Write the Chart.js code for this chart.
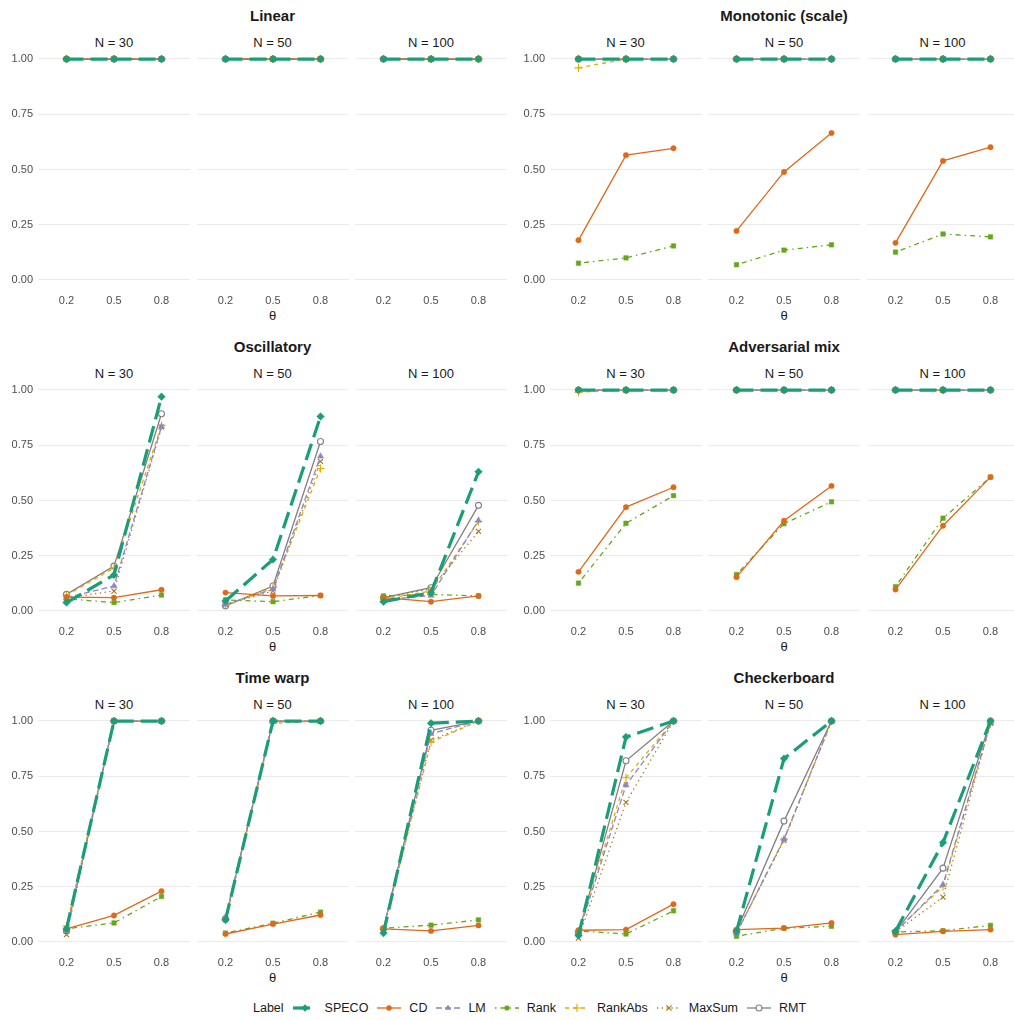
<!DOCTYPE html>
<html>
<head>
<meta charset="utf-8">
<script src="https://cdn.jsdelivr.net/npm/chart.js@4.4.1/dist/chart.umd.min.js"></script>
<style>
  html, body { margin: 0; padding: 0; background: #fff; overflow: hidden; }
  body { width: 1014px; height: 1020px; position: relative; font-family: "Liberation Sans", Arial, sans-serif; }
  .txt { position: absolute; transform: translate(-50%, -50%); white-space: nowrap; color: #1a1a1a; }
  .title { font-size: 15px; font-weight: bold; }
  .strip { font-size: 13px; }
  .xlab { font-size: 13px; }
  canvas.panel { position: absolute; }
  #legend { position: absolute; left: 253px; top: 999px; height: 18px; display: flex; align-items: center; font-size: 12.5px; color: #1a1a1a; }
  #legend .item { display: flex; align-items: center; margin-left: 9px; }
  #legend svg { margin-right: 8px; }
</style>
</head>
<body>
<div id="legend"></div>
<script>
const series = ['SPECO', 'CD', 'LM', 'Rank', 'RankAbs', 'MaxSum', 'RMT'];
const theta = [0.2, 0.5, 0.8];
const sampleSizes = [30, 50, 100];
const yTicks = [0, 0.25, 0.5, 0.75, 1];
const scenarioNames = ['Linear', 'Monotonic (scale)', 'Oscillatory', 'Adversarial mix', 'Time warp', 'Checkerboard'];

// each series: [N=30, N=50, N=100], each of those over theta 0.2 / 0.5 / 0.8
const linear = {
    SPECO:   [[1, 1, 1], [1, 1, 1], [1, 1, 1]],
    CD:      [[1, 1, 1], [1, 1, 1], [1, 1, 1]],
    LM:      [[1, 1, 1], [1, 1, 1], [1, 1, 1]],
    Rank:    [[1, 1, 1], [1, 1, 1], [1, 1, 1]],
    RankAbs: [[1, 1, 1], [1, 1, 1], [1, 1, 1]],
    MaxSum:  [[1, 1, 1], [1, 1, 1], [1, 1, 1]],
    RMT:     [[1, 1, 1], [1, 1, 1], [1, 1, 1]],
};
const monotonic = {
    SPECO:   [[1, 1, 1], [1, 1, 1], [1, 1, 1]],
    CD:      [[0.18, 0.565, 0.596], [0.222, 0.489, 0.665], [0.168, 0.539, 0.601]],
    LM:      [[1, 1, 1], [1, 1, 1], [1, 1, 1]],
    Rank:    [[0.076, 0.10, 0.154], [0.069, 0.135, 0.159], [0.126, 0.208, 0.195]],
    RankAbs: [[0.96, 1, 1], [1, 1, 1], [1, 1, 1]],
    MaxSum:  [[1, 1, 1], [1, 1, 1], [1, 1, 1]],
    RMT:     [[1, 1, 1], [1, 1, 1], [1, 1, 1]],
};
const oscillatory = {
    SPECO:   [[0.038, 0.163, 0.97], [0.045, 0.233, 0.88], [0.042, 0.083, 0.63]],
    CD:      [[0.063, 0.06, 0.096], [0.083, 0.068, 0.07], [0.06, 0.042, 0.068]],
    LM:      [[0.06, 0.113, 0.835], [0.03, 0.098, 0.70], [0.05, 0.07, 0.41]],
    Rank:    [[0.055, 0.038, 0.072], [0.05, 0.042, 0.07], [0.068, 0.075, 0.068]],
    RankAbs: [[0.07, 0.195, 0.84], [0.025, 0.105, 0.645], [0.055, 0.09, 0.405]],
    MaxSum:  [[0.06, 0.09, 0.832], [0.03, 0.09, 0.677], [0.06, 0.10, 0.36]],
    RMT:     [[0.075, 0.203, 0.893], [0.023, 0.113, 0.767], [0.06, 0.105, 0.478]],
};
const adversarial = {
    SPECO:   [[1, 1, 1], [1, 1, 1], [1, 1, 1]],
    CD:      [[0.177, 0.47, 0.56], [0.153, 0.408, 0.566], [0.097, 0.386, 0.606]],
    LM:      [[1, 1, 1], [1, 1, 1], [1, 1, 1]],
    Rank:    [[0.126, 0.397, 0.522], [0.165, 0.395, 0.494], [0.11, 0.42, 0.606]],
    RankAbs: [[0.99, 1, 1], [1, 1, 1], [1, 1, 1]],
    MaxSum:  [[1, 1, 1], [1, 1, 1], [1, 1, 1]],
    RMT:     [[1, 1, 1], [1, 1, 1], [1, 1, 1]],
};
const timeWarp = {
    SPECO:   [[0.059, 1, 1], [0.10, 1, 1], [0.04, 0.99, 1]],
    CD:      [[0.059, 0.12, 0.23], [0.036, 0.081, 0.122], [0.059, 0.05, 0.075]],
    LM:      [[0.05, 1, 1], [0.113, 1, 1], [0.06, 0.943, 1]],
    Rank:    [[0.06, 0.086, 0.206], [0.04, 0.085, 0.135], [0.062, 0.076, 0.10]],
    RankAbs: [[0.072, 1, 1], [0.10, 0.99, 1], [0.06, 0.905, 1]],
    MaxSum:  [[0.033, 1, 1], [0.10, 1, 1], [0.06, 0.913, 1]],
    RMT:     [[0.05, 1, 1], [0.105, 1, 1], [0.06, 0.958, 1]],
};
const checkerboard = {
    SPECO:   [[0.029, 0.928, 1], [0.048, 0.83, 1], [0.048, 0.45, 1]],
    CD:      [[0.053, 0.056, 0.171], [0.056, 0.063, 0.086], [0.033, 0.048, 0.056]],
    LM:      [[0.04, 0.71, 1], [0.04, 0.465, 1], [0.045, 0.26, 0.99]],
    Rank:    [[0.05, 0.036, 0.141], [0.026, 0.062, 0.071], [0.045, 0.051, 0.075]],
    RankAbs: [[0.05, 0.743, 1], [0.04, 0.465, 1], [0.05, 0.25, 0.988]],
    MaxSum:  [[0.018, 0.632, 1], [0.04, 0.46, 1], [0.045, 0.203, 0.99]],
    RMT:     [[0.04, 0.82, 1], [0.05, 0.547, 1], [0.045, 0.334, 1]],
};
const scenarioData = [linear, monotonic, oscillatory, adversarial, timeWarp, checkerboard];

const look = {
    SPECO:   { color: '#1B9E77', width: 3.2, dash: [17, 7], shape: 'rectRot', r: 3.8, fill: true },
    CD:      { color: '#DD6A1A', width: 1.3, dash: [], shape: 'circle', r: 2.7, fill: true },
    LM:      { color: '#8C86C4', width: 1.3, dash: [6, 3], shape: 'triangle', r: 3.6, fill: true },
    Rank:    { color: '#66A61E', width: 1.3, dash: [1.5, 4, 5, 4], shape: 'rect', r: 3.2, fill: true },
    RankAbs: { color: '#E6AB02', width: 1.3, dash: [4, 4], shape: 'cross', r: 4, fill: false },
    MaxSum:  { color: '#A6761D', width: 1.3, dash: [1.3, 3.5], shape: 'crossRot', r: 3.6, fill: false },
    RMT:     { color: '#808080', width: 1.3, dash: [], shape: 'circle', r: 3, fill: false },
};

const rowTops = [48, 379, 710];
const groupLefts = [38, 549.5];
const panelW = 152, panelH = 243, panelStep = 158.5, yAxisW = 40, xAxisH = 20;
const tickFont = { family: '"Liberation Sans", Arial, sans-serif', size: 11 };

function addText(cls, text, x, y) {
    const d = document.createElement('div');
    d.className = 'txt ' + cls;
    d.textContent = text;
    d.style.left = x + 'px';
    d.style.top = y + 'px';
    document.body.appendChild(d);
}

function makePanel(left, top, values, n, showY) {
    const c = document.createElement('canvas');
    c.className = 'panel';
    c.width = panelW + (showY ? yAxisW : 0);
    c.height = panelH + xAxisH;
    c.style.left = Math.round(left - (showY ? yAxisW : 0)) + 'px';
    c.style.top = top + 'px';
    document.body.appendChild(c);

    new Chart(c, {
        type: 'line',
        data: {
            datasets: series.map((name) => {
                const st = look[name];
                return {
                    label: name,
                    data: theta.map((t, i) => ({ x: t, y: values[name][n][i] })),
                    borderColor: st.color,
                    borderWidth: st.width,
                    borderDash: st.dash,
                    pointStyle: st.shape,
                    pointRadius: st.r,
                    pointBackgroundColor: st.fill ? st.color : (st.shape === 'circle' ? '#fff' : st.color),
                    pointBorderColor: st.color,
                    pointBorderWidth: st.fill ? 0.5 : 1.1,
                    tension: 0,
                    clip: 8,
                };
            }),
        },
        options: {
            responsive: false, animation: false, events: [],
            layout: { padding: 0, autoPadding: false },
            plugins: { legend: { display: false }, tooltip: { enabled: false } },
            scales: {
                x: {
                    type: 'linear', min: 0.02, max: 0.98,
                    afterBuildTicks: (s) => { s.ticks = theta.map((v) => ({ value: v })); },
                    afterFit: (s) => { s.height = xAxisH; s.paddingLeft = 0; s.paddingRight = 0; },
                    grid: { display: false, drawTicks: false }, border: { display: false },
                    ticks: { padding: 3, color: '#4d4d4d', font: tickFont, maxRotation: 0, callback: (v) => v.toFixed(1) },
                },
                y: {
                    min: -0.05, max: 1.05,
                    afterBuildTicks: (s) => { s.ticks = yTicks.map((v) => ({ value: v })); },
                    afterFit: (s) => { s.width = showY ? yAxisW : 0; s.paddingTop = 0; s.paddingBottom = 0; },
                    grid: { color: '#ebebeb', lineWidth: 1.1, drawTicks: false },
                    border: { display: false },
                    ticks: { display: showY, padding: 5, color: '#4d4d4d', font: tickFont, callback: (v) => v.toFixed(2) },
                },
            },
        },
    });
}

scenarioNames.forEach((name, s) => {
    const top = rowTops[Math.floor(s / 2)];
    const gl = groupLefts[s % 2];
    const groupMid = gl + (2 * panelStep + panelW) / 2;
    addText('title', name, groupMid, top - 33);
    addText('xlab', 'θ', groupMid, top + panelH + 24);
    sampleSizes.forEach((N, n) => {
        const left = gl + n * panelStep;
        addText('strip', 'N = ' + N, left + panelW / 2, top - 6);
        makePanel(left, top, scenarioData[s], n, n === 0);
    });
});

// legend keys
function keyMarker(st) {
    const c = st.color, cx = 12, cy = 7, r = st.r;
    switch (st.shape) {
        case 'rectRot': return `<polygon points="${cx},${cy - r} ${cx + r},${cy} ${cx},${cy + r} ${cx - r},${cy}" fill="${c}"/>`;
        case 'triangle': return `<polygon points="${cx},${cy - r} ${cx + r * 0.87},${cy + r * 0.5} ${cx - r * 0.87},${cy + r * 0.5}" fill="${c}"/>`;
        case 'rect': return `<rect x="${cx - r * 0.72}" y="${cy - r * 0.72}" width="${r * 1.44}" height="${r * 1.44}" fill="${c}"/>`;
        case 'cross': return `<path d="M${cx - r} ${cy}H${cx + r}M${cx} ${cy - r}V${cy + r}" stroke="${c}" stroke-width="1.1"/>`;
        case 'crossRot': { const d = r * 0.7; return `<path d="M${cx - d} ${cy - d}L${cx + d} ${cy + d}M${cx - d} ${cy + d}L${cx + d} ${cy - d}" stroke="${c}" stroke-width="1.1"/>`; }
        default: return st.fill
            ? `<circle cx="${cx}" cy="${cy}" r="${r}" fill="${c}"/>`
            : `<circle cx="${cx}" cy="${cy}" r="${r}" fill="#fff" stroke="${c}" stroke-width="1.1"/>`;
    }
}
document.getElementById('legend').innerHTML = '<span>Label</span>' + series.map((name) => {
    const st = look[name];
    const dash = st.dash.length ? `stroke-dasharray="${st.dash.join(' ')}"` : '';
    return `<span class="item"><svg width="24" height="14"><line x1="0" y1="7" x2="24" y2="7" stroke="${st.color}" stroke-width="${st.width}" ${dash}/>${keyMarker(st)}</svg><span>${name}</span></span>`;
}).join('');
</script>
</body>
</html>
